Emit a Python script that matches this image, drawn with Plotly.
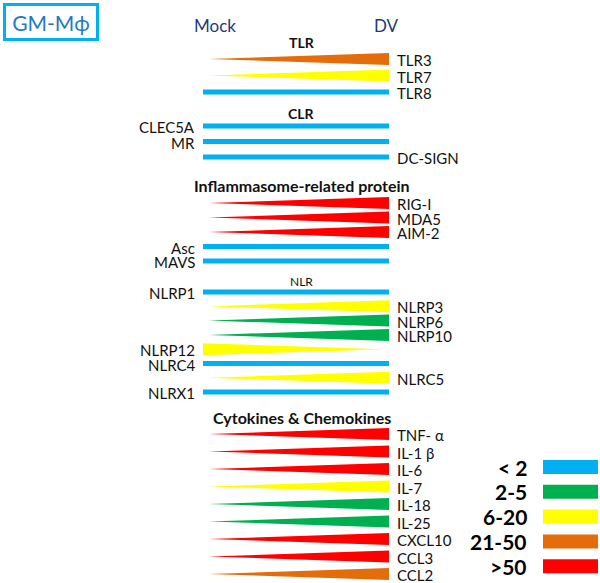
import plotly.graph_objects as go

# ---- data ----
genes = ["TLR3", "TLR7", "TLR8",
         "CLEC5A", "MR", "DC-SIGN",
         "RIG-I", "MDA5", "AIM-2", "Asc", "MAVS",
         "NLRP1", "NLRP3", "NLRP6", "NLRP10", "NLRP12", "NLRC4", "NLRC5", "NLRX1",
         "TNF- α", "IL-1 β", "IL-6", "IL-7", "IL-18", "IL-25", "CXCL10", "CCL3", "CCL2"]
fold_class = ["21-50", "6-20", "<2",
              "<2", "<2", "<2",
              ">50", ">50", ">50", "<2", "<2",
              "<2", "6-20", "2-5", "2-5", "6-20", "<2", "6-20", "<2",
              ">50", ">50", ">50", "6-20", "2-5", "2-5", ">50", ">50", "21-50"]
direction = ["up", "up", "flat",
             "flat", "flat", "flat",
             "up", "up", "up", "flat", "flat",
             "flat", "up", "up", "up", "down", "flat", "up", "flat",
             "up", "up", "up", "up", "up", "up", "up", "up", "up"]
label_side = ["R", "R", "R",
              "L", "L", "R",
              "R", "R", "R", "L", "L",
              "L", "R", "R", "R", "L", "L", "R", "L",
              "R", "R", "R", "R", "R", "R", "R", "R", "R"]
sections = ["TLR", "CLR", "Inflammasome-related protein", "NLR", "Cytokines & Chemokines"]
section_sizes = [3, 3, 5, 8, 9]

legend_labels = ["< 2", "2-5", "6-20", "21-50", ">50"]
legend_keys = ["<2", "2-5", "6-20", "21-50", ">50"]
colors = {"<2": "#00B0F0", "2-5": "#00B050", "6-20": "#FFFF00",
          "21-50": "#E46C0A", ">50": "#FF0000"}

# ---- layout of rows (y in page pixels, top = 0) ----
# header y, first-row offset, row step
section_geom = [(42, 17, 16.5), (113, 13, 15.5), (185, 18, 14.5),
                (281, 11, 14.3), (417, 17, 17.5)]
header_size = [14, 14, 16, 12, 16]
header_bold = [True, True, True, False, True]

FONT = "Lato"
row_y = []
header_y = []
for (hy, off, step), n in zip(section_geom, section_sizes):
    header_y.append(hy)
    row_y += [hy + off + i * step for i in range(n)]

X0, X1 = 203, 389          # pixel positions of "Mock" and "DV" ends
px = lambda p: (p - X0) / (X1 - X0)

fig = go.Figure()
half = 6
for g, c, d, y in zip(genes, fold_class, direction, row_y):
    col = colors[c]
    if d == "flat":
        fig.add_trace(go.Scatter(x=[0, 1], y=[y, y], mode="lines",
                                 line=dict(color=col, width=5), hoverinfo="skip"))
    else:
        tip, base = (0.03, 1.0) if d == "up" else (0.97, 0.0)
        fig.add_trace(go.Scatter(x=[tip, base, base, tip], y=[y, y - half, y + half, y],
                                 mode="lines", fill="toself", fillcolor=col,
                                 line=dict(width=0, color=col), hoverinfo="skip"))

for g, s, y in zip(genes, label_side, row_y):
    if s == "R":
        fig.add_annotation(x=px(395), y=y + 1, text=g, xanchor="left", showarrow=False,
                           font=dict(family=FONT, size=15, color="#111"))
    else:
        fig.add_annotation(x=px(197), y=y + 1, text=g, xanchor="right", showarrow=False,
                           font=dict(family=FONT, size=15, color="#111"))

for name, hy, b, fs in zip(sections, header_y, header_bold, header_size):
    fig.add_annotation(x=0.53, y=hy, text=f"<b>{name}</b>" if b else name, showarrow=False,
                       font=dict(family=FONT, size=fs, color="#111"))

fig.add_annotation(x=px(215), y=25, text="Mock", showarrow=False,
                   font=dict(family=FONT, size=17, color="#1F3B73"))
fig.add_annotation(x=px(386), y=25, text="DV", showarrow=False,
                   font=dict(family=FONT, size=17, color="#1F3B73"))

# colour key
for i, (lab, key) in enumerate(zip(legend_labels, legend_keys)):
    ly = 467 + i * 24.8
    fig.add_annotation(x=px(529), y=ly, text=f"<b>{lab}</b>", xanchor="right", showarrow=False,
                       font=dict(family=FONT, size=21, color="#000"))
    fig.add_shape(type="rect", x0=px(543), x1=px(598), y0=ly - 7, y1=ly + 7,
                  fillcolor=colors[key], line=dict(width=0))

fig.add_annotation(x=3 / 600, y=1 - 3 / 583, xref="paper", yref="paper",
                   xanchor="left", yanchor="top", text="GM-Mϕ", showarrow=False,
                   width=88, height=30, borderpad=1, bordercolor="#00B0F0", borderwidth=3,
                   font=dict(family=FONT, size=21, color="#1E7BC2"))

fig.update_layout(
    width=600, height=583, margin=dict(l=0, r=0, t=0, b=0),
    plot_bgcolor="white", paper_bgcolor="white", showlegend=False,
    xaxis=dict(range=[px(0), px(600)], visible=False, fixedrange=True),
    yaxis=dict(range=[583, 0], visible=False, fixedrange=True),
)

fig.write_html("out.html", post_script="document.body.style.margin='0px';",
               config={"displayModeBar": False})
